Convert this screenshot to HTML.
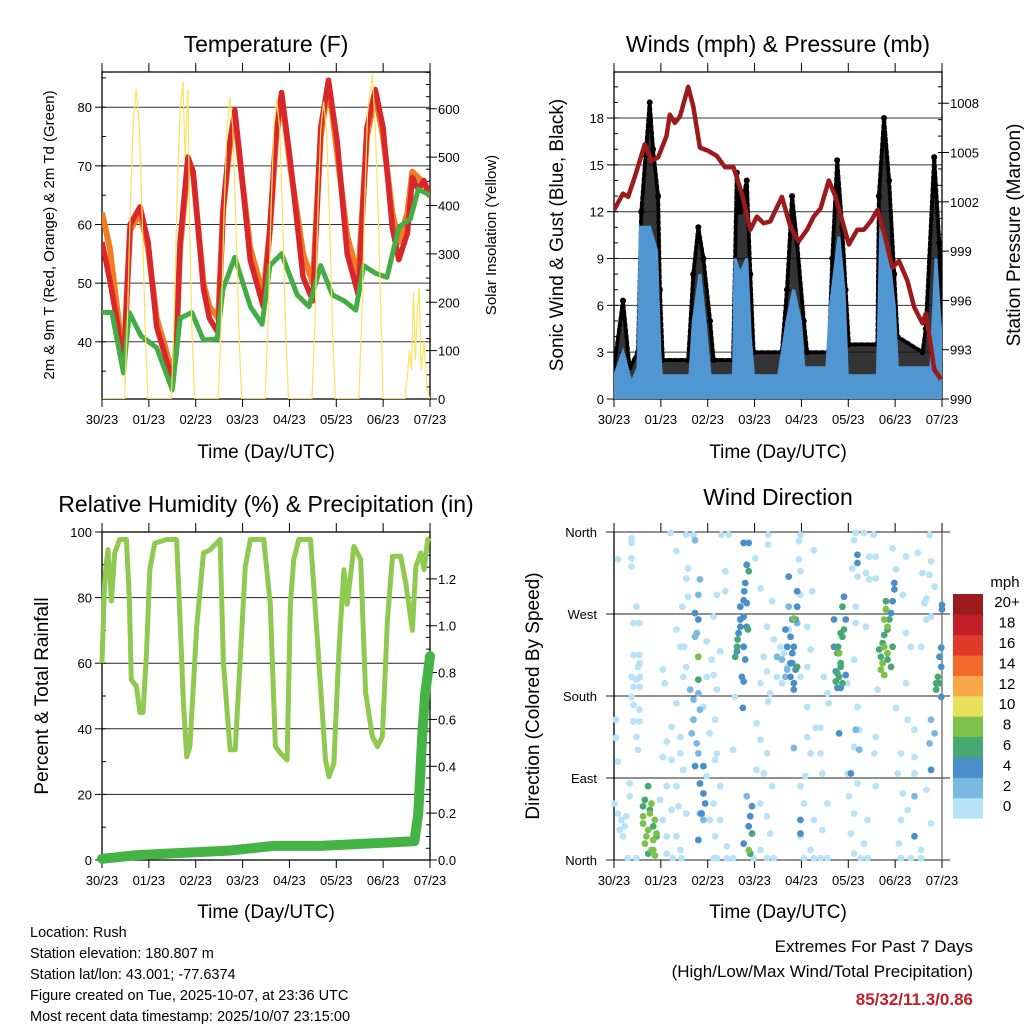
<!DOCTYPE html>
<html><head><meta charset="utf-8">
<style>
html,body{margin:0;padding:0;background:#fff;}
svg{display:block;font-family:"Liberation Sans",sans-serif;}
</style></head>
<body>
<svg id="svg" width="1024" height="1024" viewBox="0 0 1024 1024" xmlns="http://www.w3.org/2000/svg">
<g id="text-layer" font-family="Liberation Sans, sans-serif">
<text x="266" y="52" font-size="23" text-anchor="middle">Temperature (F)</text>
<text x="778" y="52" font-size="23" text-anchor="middle">Winds (mph) &amp; Pressure (mb)</text>
<text x="266" y="512" font-size="23" text-anchor="middle">Relative Humidity (%) &amp; Precipitation (in)</text>
<text x="778" y="505" font-size="23" text-anchor="middle">Wind Direction</text>
<text transform="translate(54,235) rotate(-90)" font-size="15" text-anchor="middle">2m &amp; 9m T (Red, Orange) &amp; 2m Td (Green)</text>
<text transform="translate(496,235) rotate(-90)" font-size="15" text-anchor="middle">Solar Insolation (Yellow)</text>
<text transform="translate(563,235) rotate(-90)" font-size="19" text-anchor="middle">Sonic Wind &amp; Gust (Blue, Black)</text>
<text transform="translate(1020,235) rotate(-90)" font-size="19" text-anchor="middle">Station Pressure (Maroon)</text>
<text transform="translate(48,696) rotate(-90)" font-size="19" text-anchor="middle">Percent &amp; Total Rainfall</text>
<text transform="translate(539,696) rotate(-90)" font-size="19" text-anchor="middle">Direction (Colored By Speed)</text>
<text x="266" y="458" font-size="19" text-anchor="middle">Time (Day/UTC)</text>
<text x="778" y="458" font-size="19" text-anchor="middle">Time (Day/UTC)</text>
<text x="266" y="918" font-size="19" text-anchor="middle">Time (Day/UTC)</text>
<text x="778" y="918" font-size="19" text-anchor="middle">Time (Day/UTC)</text>
<g font-size="14.5">
<text x="30" y="937">Location: Rush</text>
<text x="30" y="958">Station elevation: 180.807 m</text>
<text x="30" y="979">Station lat/lon: 43.001; -77.6374</text>
<text x="30" y="1000">Figure created on Tue, 2025-10-07, at 23:36 UTC</text>
<text x="30" y="1021">Most recent data timestamp: 2025/10/07 23:15:00</text>
</g>
<text x="973" y="952" font-size="17" text-anchor="end">Extremes For Past 7 Days</text>
<text x="973" y="977" font-size="17" text-anchor="end">(High/Low/Max Wind/Total Precipitation)</text>
<text x="973" y="1005" font-size="17" font-weight="bold" fill="#c0202a" text-anchor="end">85/32/11.3/0.86</text>
</g>
</svg>
<script>
// ---------- Temperature data ----------
const tempHours=[0,4,8,11,13,14.4,19.5,23.6,28,32,36,38,40,44,46.7,52,55,59.5,62,65,68,70.8,75.9,82.6,86,89,92,96.4,103,108,112,116,120.5,125.6,131.3,135.7,140,144,148.7,152,156.4,159,162,164.9,168];
const temp9m=[57,50.5,43,35.2,50,60,63,57,42.5,38,33.5,38,57,71.5,69,49,44,41.5,62.5,73,79.5,71,54,46,59.5,75,82.5,71,51,47,76.5,84.6,74,55,48,76.5,83,76.5,59.5,54,58.5,68,66,67.5,64.7];
const temp2m=[62,56,45,36,50,59,62,56,44,39.5,34.5,39,56,70,68.5,50,46,44,62,72,78.5,70.5,56,48,59,74,82,70,55,50,75,84,72,58,51,75,82,75,62,57,62,69,68,67,65];
const dewHours=[0,5,11,14,20,28,36,40,46,52,59,62,68,76,82,86,92,100,106,112,118,124,130,134,140,146,152,158,162,168];
const dewVals=[45,45,34.7,45,41,39,31.8,44,45,40.3,40.5,49,54.4,46,43,53,55,48,46,53,48,47,45.4,53,51.7,51,59.5,61,66,65];
const solarHours=[0,11.5,13,14.5,16,17.5,19,20.5,22,23.5,35.5,37,38.5,40,41.5,42.5,44,45,46,47.5,59.5,61,62.5,64,65.5,67,68.5,70,71.5,83.5,85,86.5,88,89.5,91,92.5,94,95.5,107.5,109,110.5,112,113.5,115,116.5,118,119.5,131.5,133,134.5,136,137.5,138.5,140,141.5,143,144,155,156.5,157.5,158.5,159.5,160.5,161.5,162.5,163.5,165,166.5,168];
const solarVals=[0,0,160,390,570,642,570,390,160,0,0,170,420,600,656,500,640,330,150,0,0,150,380,560,625,560,380,150,0,0,150,380,560,620,560,380,150,0,0,150,375,555,615,555,375,150,0,0,160,400,590,640,672,560,380,150,0,0,50,100,60,220,80,180,230,60,120,20,0];
const tempTicks=[40,50,60,70,80];
const solarTicks=[0,100,200,300,400,500,600];
const dayLabels=["30/23","01/23","02/23","03/23","04/23","05/23","06/23","07/23"];
// ---------- Wind data ----------
const windHours=[0,4.6,8.9,12.3,13.5,14.9,18.3,21.8,23.5,24.3,38.9,40.6,44,46.6,49.2,61.2,62,64.6,68,69.8,71.5,84.3,88.6,92,95.5,97.2,109,110.9,115.2,117.8,119.5,134.9,136.6,140,143.5,145.2,162.3,164.9,167.5,168];
const windVals=[1.4,3,1,2,11,11,11,9.5,3,1.5,1.5,5,8,5,1.5,1.5,9,8,9,4,1.5,1.5,5,7,5,2,2,6,10.4,7,1.5,1.5,10.8,10,6,2,2,9,4,3];
const gustHours=[0,4.6,8,12.3,14,18.3,20,22.6,23.5,25,38,40.6,43.2,45.8,49.2,51,61,62.9,64.6,68,69.8,71.5,86,88.6,91.2,93.8,97.2,98.9,110,111.8,114.3,116.9,118.6,120.3,134.9,135.7,138.3,140.9,143.5,145.2,158,159.7,164,166.6,168];
const gustVals=[2,6.3,2,3,12,19,16,13,7,2.5,2.5,8,11,9,5,2.5,2.5,14.5,12,14,8,3,3,7,13,10,5,3,3,9,15.3,11,7,3.5,3.5,13,18,14,8,4,3,4.5,15.5,10,5];
const presHours=[0,4.6,7.2,10.6,13.2,15.8,19.2,22.6,26.9,28.6,31.2,33.8,38,40.6,44,48.3,52.6,56.9,61.2,65.5,69.8,73.2,76.6,80,86,90.3,94.6,98.9,102.3,105.8,110,113.5,120.3,124.6,128,131.5,134.9,138.3,142.6,146,150.3,153.7,158,159.7,162.3,164,167.5];
const presVals=[1001.5,1002.5,1002.3,1003.5,1004.5,1005.5,1004.5,1004.7,1006,1007.3,1006.8,1007.2,1009,1007.8,1005.3,1005.1,1004.8,1004.1,1004.1,1002.5,1000.3,1001.1,1000.7,1000.8,1002.3,1000.5,999.6,1000.3,1001.1,1001.6,1003.3,1002.3,999.4,1000.3,1000.3,1000.8,1001.5,1000.1,998,998.4,997.2,995.6,994.6,995.2,993.2,991.8,991.2];
const windTicks=[0,3,6,9,12,15,18];
const presTicks=[990,993,996,999,1002,1005,1008];
// ---------- Humidity / precip ----------
const rhHours=[0,1.4,3,4.8,6.5,9,12.5,14,15,17.6,19.4,21,22.8,24.5,27,33,38.2,40,41.7,43.4,45,48.5,52,55.4,60.5,62.2,65.6,68.2,70.8,73.4,76,82.8,86.2,88.8,91.4,94.8,96.5,98.2,100.8,106.8,108.5,111.9,114.5,116.2,118.8,121.3,123.9,125.6,129,132.5,135,138.5,141.1,143.6,146.2,148.8,153,155.6,159,160.8,163.3,165,166.8,168];
const rhVals=[60,85.5,94.6,79,93.6,97.7,97.7,80,55,53,45,45,63,88.5,96.6,97.7,97.7,73,48,31.5,34.6,71,93.6,94.6,97.7,60,33.6,33.6,61,89.5,97.7,97.7,78,34.6,32.6,30.5,78,91.6,97.7,97.7,83.4,53,30.5,25.4,29.5,63,88.5,78,95.6,91.6,51,37.6,34.6,37.6,73,92.6,92.6,84.4,70,89.5,93.6,88.5,97.7,98];
const rainHours=[0,17,40,65,88,112,135,160,162,164,165.5,167,168];
const rainVals=[0.005,0.02,0.03,0.04,0.06,0.06,0.07,0.08,0.2,0.53,0.71,0.8,0.87];
const rhTicks=[0,20,40,60,80,100];
const rainTicks=[0.0,0.2,0.4,0.6,0.8,1.0,1.2];
// ---------- Wind direction ----------
const wdHours=[2,9,9,9,9,11.5,10,13,10,13,9,11.5,10,9,10,13,10,13,11.5,1,1,2,0.3,8,8,23.5,25,27,27,30,25,26,29,32,35,32,34,36,37,35.5,32,29.5,34,27,25,29.5,34,35.5,27,32,29.5,33,37,32,34,37,38,37,38,40.7,52.7,57,57,55,58.7,51,47.5,50,54.4,47.5,51,52.7,45.8,51.8,49,52.7,51.8,47.5,54.4,51,49,54.4,51.8,57.8,52.7,57.8,61,62,72.4,75,79,79,81,78.4,81.8,76.7,78.4,75,80,79,73,75,78.4,73,76.7,81,75,78.4,80,75,81.8,71.5,83.5,86,89.5,88.7,95.5,94.7,102.4,94.7,95.5,101.5,95.5,99,100.7,99,95.5,99,103.3,99,100.7,98,95.5,97.3,102.4,95.5,100.7,102.4,105.8,110,109.3,107.5,105.8,105.8,106.7,109.3,106.7,123.8,128,123,122,124.7,129,130.7,134,133,130.7,134,123.8,123.8,129,123,119.6,124.7,125.6,123,119.6,124.7,120.4,123,129.8,121.3,128,123,129.8,134,133.3,134,135,142.7,144.4,147,145.3,147.9,150.4,147,146,153.9,157.3,152,144.4,149.6,147.9,149.6,152,149.6,155.6,158,161.6,162.4,161.6,160,160,157.3,159,164.2,162.4,153.9,150.4,153.9,162.4,160,7,11.5,34.6,51,61,78.4,97.3,109.3,126.4,147,157.3,
2,3.8,5.5,4.6,2.9,6.3,12.3,12.3,13.2,13.2,13.2,87,85.2,83.5,86,88.7,87.8,89.5,93.8,92.1,123.8,125.6,153.9,162.4,164.2,161.6,44,45.8,68,
41.5,44,43.2,42.4,41.5,39,40.7,43.2,44,40.7,39.8,42.4,43.2,41.5,45.8,44,45.8,46.7,44.9,43.2,66.4,68,67.2,66.7,64.7,66.4,68,65.5,66,70.7,69.8,69,66.4,89.5,91.3,90.4,91.3,93,92.1,88.7,93.8,95.5,95.5,117.8,118.7,114.4,116.1,118.7,124.7,124.7,143.6,143.6,141.9,167.6,166.7,167.6,167.6,168,168,162.4,115.3,121.3,113.6,139.3,142.7,153.9,41.5,43.2,66.4,64.7,87.8,90.4,
69,68,63.8,64.7,66.4,63,67.2,66.4,93.8,93,92.1,91.3,90.4,92.1,112.7,112.7,114.4,116.1,115.3,117,113.6,117,117.8,139.3,138.4,141.9,140.1,142.7,165.9,165,166.7,17.5,15.8,18.4,20.1,21.8,17.5,43.2,69.8,70.7,117,93.8,
69,68.6,63,62.1,63.3,116.1,114.8,116.1,114.4,135.8,136.7,137.6,140.1,141,165,14.9,18.4,20.9,21.8,16.6,20.1,43.2,69,92.1,14.9,19.2,
139.3,138.4,140.1,138.4,140.1,137.6,136.7,138.4,115.3,14.9,17.5,15.8,20.1,19.2,20.9];
const wdDirs=[330,353,348,331,322,278,260,260,225,225,201,198,190,179,170,165,152,152,135,154,134,108,62,84,70,66,44,26,7,2,209,194,359,339,278,253,234,234,212,201,172,146,135,130,113,110,117,99,81,81,55,59,51,26,11,357,320,309,289,357,291,295,317,357,357,267,240,220,229,201,203,187,168,154,139,117,110,92,81,62,44,44,26,15,2,2,121,179,331,298,357,346,284,256,242,223,207,194,183,174,150,132,117,99,95,81,62,48,29,11,2,2,201,194,253,212,357,350,340,330,317,295,291,256,231,212,201,168,145,135,117,92,81,62,44,26,11,2,2,172,183,201,145,117,95,62,33,359,359,351,320,311,315,308,309,357,333,333,278,260,256,220,194,168,143,124,95,84,70,51,44,29,18,7,2,135,117,81,187,342,167,117,95,73,55,44,18,95,11,2,319,333,291,249,234,194,337,315,313,328,357,287,264,234,282,300,267,143,154,113,40,77,2,2,2,2,2,2,2,2,2,2,2,
51,44,37,26,33,48,121,212,201,190,216,227,234,223,220,209,201,278,260,123,143,121,70,154,139,128,51,44,70,
351,308,291,249,245,187,176,183,165,154,139,128,117,103,103,84,73,62,51,22,348,324,304,295,278,267,256,201,167,59,48,37,18,311,264,245,227,209,187,234,278,44,29,289,264,189,189,203,335,326,304,297,271,233,223,212,179,275,280,99,139,95,207,275,284,26,271,264,285,264,253,216,
348,282,249,256,234,229,220,196,295,264,234,216,201,194,264,234,227,212,201,194,196,278,253,284,247,212,220,234,201,187,194,81,66,55,37,26,7,198,7,29,245,212,
317,253,234,223,242,249,234,216,205,231,223,238,253,264,194,59,51,44,29,26,11,223,11,265,48,62,
275,264,256,234,227,216,209,203,227,40,33,18,22,11,5];
const wdSpeeds=[1,1,1,1,1,1,1,1,1,1,1,1,1,1,1,1,1,1,1,1,1,1,1,1,1,1,1,1,1,1,1,1,1,1,1,1,1,1,1,1,1,1,1,1,1,1,1,1,1,1,1,1,1,1,1,1,1,1,1,1,1,1,1,1,1,1,1,1,1,1,1,1,1,1,1,1,1,1,1,1,1,1,1,1,1,1,1,1,1,1,1,1,1,1,1,1,1,1,1,1,1,1,1,1,1,1,1,1,1,1,1,1,1,1,1,1,1,1,1,1,1,1,1,1,1,1,1,1,1,1,1,1,1,1,1,1,1,1,1,1,1,1,1,1,1,1,1,1,1,1,1,1,1,1,1,1,1,1,1,1,1,1,1,1,1,1,1,1,1,1,1,1,1,1,1,1,1,1,1,1,1,1,1,1,1,1,1,1,1,1,1,1,1,1,1,1,1,1,1,1,1,1,1,1,1,1,1,1,1,1,1,1,1,1,1,1,1,1,1,1,1,1,1,1,1,1,1,1,1,1,1,1,1,1,1,1,
3,3,3,3,3,3,3,3,3,3,3,3,3,3,3,3,3,3,3,3,3,3,3,3,3,3,3,3,3,
5,5,5,5,5,5,5,5,5,5,5,5,5,5,5,5,5,5,5,5,5,5,5,5,5,5,5,5,5,5,5,5,5,5,5,5,5,5,5,5,5,5,5,5,5,5,5,5,5,5,5,5,5,5,5,5,5,5,5,5,5,5,5,5,5,5,5,5,5,5,5,5,5,5,5,
7,7,7,7,7,7,7,7,7,7,7,7,7,7,7,7,7,7,7,7,7,7,7,7,7,7,7,7,7,7,7,7,7,7,7,7,7,7,7,7,7,7,
9,9,9,9,9,9,9,9,9,9,9,9,9,9,9,9,9,9,9,9,9,9,9,9,9,9,
11,11,11,11,11,11,11,11,11,11,11,11,11,11,11];
const dirTicks=[0,90,180,270,360];
const dirLabels=["North","East","South","West","North"];
const cbLabels=["0","2","4","6","8","10","12","14","16","18","20+"];
const cbColors=["#b8e2f8","#7ab8e4","#4b8fc8","#48a874","#7cc24a","#e8e05a","#f8a848","#f26a2a","#e23a2a","#c01f27","#9b1b1e"];

const NS="http://www.w3.org/2000/svg";
const svg=document.getElementById('svg');
function mk(tag,attrs,parent){const e=document.createElementNS(NS,tag);for(const k in attrs)e.setAttribute(k,attrs[k]);(parent||svg).appendChild(e);return e;}
function lin(d0,d1,r0,r1){return v=>r0+(v-d0)*(r1-r0)/(d1-d0);}

const panels={
 temp:{x0:102,x1:430,y0:72,y1:399},
 wind:{x0:614,x1:942,y0:72,y1:399},
 rh:{x0:102,x1:430,y0:532,y1:860},
 dir:{x0:614,x1:942,y0:532,y1:860}
};
function xs(p){return lin(0,168,p.x0,p.x1);}

function frame(p,name){
 const g=mk('g',{});
 
 
 const X=xs(p);
 dayLabels.forEach((lab,i)=>{
  const x=X(i*24);
  mk('line',{x1:x,x2:x,y1:p.y0-9,y2:p.y0,stroke:'#000','stroke-width':1},g);
  mk('line',{x1:x,x2:x,y1:p.y1,y2:p.y1+8,stroke:'#000','stroke-width':1},g);
  const t=mk('text',{x:x,y:p.y1+25,'font-size':13,'text-anchor':'middle'},g);
  t.textContent=lab;
  
  
 });
 return g;
}
function box(p,g){mk('rect',{x:p.x0,y:p.y0,width:p.x1-p.x0,height:p.y1-p.y0,fill:'none',stroke:'#000','stroke-width':1.3},g);}
function yTicks(p,g,ticks,scale,side,fmt,minorStep,lo,hi){
 ticks.forEach(v=>{
  const y=scale(v);
  if(side==='left'){
   mk('line',{x1:p.x0-7,x2:p.x0,y1:y,y2:y,stroke:'#000'},g);
   const t=mk('text',{x:p.x0-10,y:y+5,'font-size':13,'text-anchor':'end'},g);t.textContent=fmt(v);
   
   
  } else {
   mk('line',{x1:p.x1,x2:p.x1+7,y1:y,y2:y,stroke:'#000'},g);
   const t=mk('text',{x:p.x1+8,y:y+5,'font-size':13,'text-anchor':'start'},g);t.textContent=fmt(v);
   
   
  }
 });
 if(minorStep){for(let v=lo;v<=hi+1e-9;v+=minorStep){const y=scale(v);if(y<p.y0-0.5||y>p.y1+0.5)continue;
  if(side==='left')mk('line',{x1:p.x0,x2:p.x0+4,y1:y,y2:y,stroke:'#000'},g);
  else mk('line',{x1:p.x1-4,x2:p.x1,y1:y,y2:y,stroke:'#000'},g);}}
}
function grid(p,g,ticks,scale,color){ticks.forEach(v=>{const y=scale(v);if(y<=p.y0+1||y>=p.y1-1)return;mk('line',{x1:p.x0,x2:p.x1,y1:y,y2:y,stroke:color||'#222','stroke-width':1},g);});}
function path(hours,vals,X,Y){return hours.map((h,i)=>(i?'L':'M')+X(h).toFixed(1)+','+Y(vals[i]).toFixed(1)).join('');}

// ===== Temperature panel =====
(function(){
 const p=panels.temp,X=xs(p);
 const Y=lin(30.25,86,p.y1,p.y0), S=lin(0,676,p.y1,p.y0);
 const g=frame(p,'temperature');
 grid(p,g,tempTicks,Y,'#333');
 const clip=mk('clipPath',{id:'c1'});mk('rect',{x:p.x0,y:p.y0,width:p.x1-p.x0,height:p.y1-p.y0},clip);
 const d=mk('g',{'clip-path':'url(#c1)'});
 let e=mk('path',{d:path(tempHours,temp2m,X,Y),fill:'none',stroke:'#f27c22','stroke-width':6,'stroke-linejoin':'round'},d);
 
 
 e=mk('path',{d:path(tempHours,temp9m,X,Y),fill:'none',stroke:'#d9262a','stroke-width':5.5,'stroke-linejoin':'round'},d);
 
 
 e=mk('path',{d:path(dewHours,dewVals,X,Y),fill:'none',stroke:'#45ad45','stroke-width':5,'stroke-linejoin':'round'},d);
 
 
 e=mk('path',{d:path(solarHours,solarVals,X,S),fill:'none',stroke:'#ffe25a','stroke-width':1.2},d);
 
 
 box(p,g);
 yTicks(p,g,tempTicks,Y,'left',v=>v,5,30,85);
 yTicks(p,g,solarTicks,S,'right',v=>v,25,0,675);
})();

// ===== Wind panel =====
(function(){
 const p=panels.wind,X=xs(p);
 const Y=lin(0,20.95,p.y1,p.y0), P=lin(990,1009.9,p.y1,p.y0);
 const g=frame(p,'winds');
 grid(p,g,windTicks,Y,'#333');
 const clip=mk('clipPath',{id:'c2'});mk('rect',{x:p.x0,y:p.y0,width:p.x1-p.x0,height:p.y1-p.y0},clip);
 const d=mk('g',{'clip-path':'url(#c2)'});
 let e=mk('path',{d:path(gustHours,gustVals,X,Y)+'L'+X(168)+','+Y(0)+'L'+X(0)+','+Y(0)+'Z',fill:'#111','fill-opacity':0.85,stroke:'#000','stroke-width':4,'stroke-dasharray':'3 3','stroke-linecap':'round'},d);
 
 
 gustHours.forEach((h,i)=>{const c=mk('circle',{cx:X(h),cy:Y(gustVals[i]),r:3,fill:'#000'},d);
  
  });
 e=mk('path',{d:path(windHours,windVals,X,Y)+'L'+X(168)+','+Y(0)+'L'+X(0)+','+Y(0)+'Z',fill:'#4f96d2',stroke:'#4f96d2','stroke-width':3},d);
 
 
 e=mk('path',{d:path(presHours,presVals,X,P),fill:'none',stroke:'#9c1a1c','stroke-width':4.5,'stroke-linejoin':'round'},d);
 
 
 box(p,g);
 yTicks(p,g,windTicks,Y,'left',v=>v,1,0,20);
 yTicks(p,g,presTicks,P,'right',v=>v,1,990,1009);
})();

// ===== RH panel =====
(function(){
 const p=panels.rh,X=xs(p);
 const Y=lin(0,100,p.y1,p.y0), R=lin(0,1.4,p.y1,p.y0);
 const g=frame(p,'humidity');
 grid(p,g,rhTicks,Y,'#222');
 const clip=mk('clipPath',{id:'c3'});mk('rect',{x:p.x0-6,y:p.y0,width:p.x1-p.x0+12,height:p.y1-p.y0+6},clip);
 const d=mk('g',{'clip-path':'url(#c3)'});
 let e=mk('path',{d:path(rhHours,rhVals,X,Y),fill:'none',stroke:'#8fc94f','stroke-width':5,'stroke-linejoin':'round'},d);
 
 
 e=mk('path',{d:path(rainHours,rainVals,X,R),fill:'none',stroke:'#46b347','stroke-width':10,'stroke-linejoin':'round','stroke-linecap':'round'},d);
 
 
 box(p,g);
 yTicks(p,g,rhTicks,Y,'left',v=>v,10,0,100);
 yTicks(p,g,rainTicks,R,'right',v=>v.toFixed(1),0.05,0,1.4);
})();

// ===== Direction panel =====
(function(){
 const p=panels.dir,X=xs(p);
 const Y=lin(0,360,p.y1,p.y0);
 const g=frame(p,'wind-direction');
 dirTicks.forEach((v,i)=>{const y=Y(v);
  mk('line',{x1:p.x0-8,x2:p.x1+8,y1:y,y2:y,stroke:'#222'},g);
  const t=mk('text',{x:p.x0-17,y:y+5,'font-size':13,'text-anchor':'end'},g);t.textContent=dirLabels[i];
  
  });
 mk('line',{x1:p.x0,x2:p.x0,y1:p.y0,y2:p.y1,stroke:'#000','stroke-width':1.3},g);
 mk('line',{x1:p.x1,x2:p.x1,y1:p.y0,y2:p.y1,stroke:'#666','stroke-width':1.3},g);
 const d=mk('g',{});
 
 
 wdHours.forEach((h,i)=>{const s=wdSpeeds[i];const ci=Math.min(10,Math.floor(s/2));
  const c=mk('circle',{cx:X(Math.min(168,h)),cy:Y(wdDirs[i]),r:3.4,fill:cbColors[ci]},d);
  
  });
 // colorbar
 const cb=mk('g',{});
 
 
 const bx=953,bw=30,top=594,bh=20.4;
 cbColors.forEach((c,i)=>{const y=top+(10-i)*bh;mk('rect',{x:bx,y:y,width:bw,height:bh+0.3,fill:c},cb);
  const t=mk('text',{x:1007,y:y+bh/2+3,'font-size':15,'text-anchor':'middle'},cb);t.textContent=cbLabels[i];
  
  });
 const t=mk('text',{x:1005,y:587,'font-size':15,'text-anchor':'middle'},cb);t.textContent='mph';
 
 
})();
</script>
</body></html>
